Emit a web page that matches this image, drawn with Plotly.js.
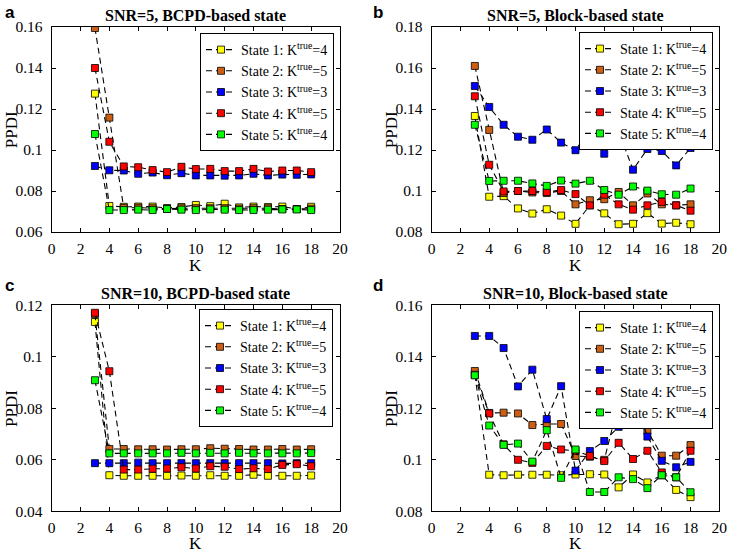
<!DOCTYPE html>
<html>
<head>
<meta charset="utf-8">
<script src="https://cdn.plot.ly/plotly-3.0.1.min.js"></script>
<style>html,body{margin:0;padding:0;background:#fff;}#plot{width:729px;height:552px;}</style>
</head>
<body>
<div id="plot"></div>
<script>
// ---------- data ----------
const K = [3,4,5,6,7,8,9,10,11,12,13,14,15,16,17,18];
const stateNames = [
  'State 1: K<sup>true</sup>=4',
  'State 2: K<sup>true</sup>=5',
  'State 3: K<sup>true</sup>=3',
  'State 4: K<sup>true</sup>=5',
  'State 5: K<sup>true</sup>=4'
];
const panelTitles = ['SNR=5, BCPD-based state','SNR=5, Block-based state','SNR=10, BCPD-based state','SNR=10, Block-based state'];
const panelLetters = ['a','b','c','d'];
const xTicks = [0,2,4,6,8,10,12,14,16,18,20];
const yTicksA = [0.06,0.08,0.1,0.12,0.14,0.16];
const yTicksB = [0.08,0.1,0.12,0.14,0.16,0.18];
const yTicksC = [0.04,0.06,0.08,0.1,0.12];
const yTicksD = [0.08,0.1,0.12,0.14,0.16];

// Panel a: SNR=5, BCPD-based
const a_s1 = [0.1275,0.0727,0.0723,0.0724,0.0724,0.0717,0.0722,0.0732,0.0726,0.0738,0.0720,0.0724,0.0722,0.0724,0.0712,0.0723];
const a_s2 = [0.1595,0.1158,0.0718,0.0719,0.0716,0.0713,0.0716,0.0716,0.0716,0.0716,0.0714,0.0716,0.0716,0.0712,0.0712,0.0714];
const a_s3 = [0.0922,0.0901,0.0900,0.0884,0.0890,0.0877,0.0887,0.0876,0.0876,0.0875,0.0876,0.0884,0.0876,0.0880,0.0879,0.0881];
const a_s4 = [0.1400,0.1040,0.0920,0.0916,0.0902,0.0892,0.0918,0.0907,0.0908,0.0897,0.0897,0.0908,0.0895,0.0900,0.0900,0.0892];
const a_s5 = [0.1078,0.0707,0.0707,0.0709,0.0707,0.0712,0.0709,0.0707,0.0710,0.0709,0.0707,0.0707,0.0709,0.0710,0.0710,0.0707];
// Panel b: SNR=5, Block-based
const b_s1 = [0.1366,0.0972,0.0975,0.0915,0.0890,0.0911,0.0880,0.0840,0.0930,0.0891,0.0838,0.0840,0.0892,0.0841,0.0845,0.0838];
const b_s2 = [0.1610,0.1298,0.0990,0.1000,0.0993,0.0990,0.1000,0.0935,0.0955,0.0960,0.0995,0.0930,0.0988,0.0935,0.0930,0.0935];
const b_s3 = [0.1512,0.1410,0.1323,0.1265,0.1250,0.1300,0.1236,0.1199,0.1300,0.1182,0.1290,0.1104,0.1205,0.1195,0.1125,0.1210];
const b_s4 = [0.1462,0.1128,0.0998,0.1000,0.1000,0.0995,0.1005,0.0985,0.0930,0.0982,0.0935,0.0909,0.0930,0.0947,0.0930,0.0904];
const b_s5 = [0.1323,0.1049,0.1050,0.1050,0.1037,0.1025,0.1051,0.1036,0.1050,0.1005,0.0982,0.1022,0.1002,0.0984,0.0982,0.1012];
// Panel c: SNR=10, BCPD-based
const c_s1 = [0.1135,0.0540,0.0538,0.0538,0.0538,0.0538,0.0539,0.0538,0.0540,0.0538,0.0538,0.0542,0.0538,0.0538,0.0538,0.0539];
const c_s2 = [0.1165,0.0642,0.0642,0.0641,0.0641,0.0640,0.0641,0.0641,0.0645,0.0643,0.0642,0.0640,0.0640,0.0642,0.0640,0.0641];
const c_s3 = [0.0587,0.0587,0.0587,0.0589,0.0587,0.0587,0.0587,0.0587,0.0587,0.0587,0.0587,0.0587,0.0587,0.0586,0.0587,0.0587];
const c_s4 = [0.1171,0.0944,0.0562,0.0562,0.0565,0.0566,0.0571,0.0566,0.0575,0.0573,0.0564,0.0567,0.0564,0.0580,0.0583,0.0575];
const c_s5 = [0.0909,0.0625,0.0625,0.0625,0.0625,0.0625,0.0627,0.0625,0.0627,0.0625,0.0627,0.0625,0.0625,0.0625,0.0625,0.0626];
// Panel d: SNR=10, Block-based
const d_s1 = [0.1330,0.0942,0.0940,0.0942,0.0942,0.0942,0.0940,0.0943,0.0944,0.0943,0.0893,0.0943,0.0912,0.0940,0.0883,0.0855];
const d_s2 = [0.1345,0.1182,0.1183,0.1180,0.1135,0.1139,0.1139,0.1015,0.1012,0.1000,0.1220,0.1240,0.1113,0.1016,0.1016,0.1057];
const d_s3 = [0.1481,0.1481,0.1434,0.1285,0.1350,0.1158,0.1286,0.0958,0.1034,0.1073,0.1128,0.1250,0.1090,0.0996,0.0971,0.0992];
const d_s4 = [0.1330,0.1180,0.1060,0.1000,0.0988,0.1054,0.1040,0.1035,0.1015,0.0995,0.1066,0.1003,0.1035,0.0951,0.0932,0.1035];
const d_s5 = [0.1328,0.1133,0.1058,0.1063,0.0993,0.1115,0.0930,0.1040,0.0875,0.0875,0.0932,0.0925,0.0890,0.0940,0.0932,0.0874];

const panels = [
  [a_s1,a_s2,a_s3,a_s4,a_s5],
  [b_s1,b_s2,b_s3,b_s4,b_s5],
  [c_s1,c_s2,c_s3,c_s4,c_s5],
  [d_s1,d_s2,d_s3,d_s4,d_s5]
];
const yTickSets = [yTicksA,yTicksB,yTicksC,yTicksD];

// ---------- styling ----------
const colors = ['#ffff00','#cc5f14','#0000ff','#ff0000','#00ff00'];
const serif = 'Liberation Serif';
const W = 729, H = 552;
const xDom = [[51.7/W, 340/W],[431.7/W, 719.3/W]];
const yDom = [[1-232/H, 1-27/H],[1-511.3/H, 1-305.3/H]];

const traces = [];
panels.forEach((series, p) => {
  const sfx = p === 0 ? '' : String(p+1);
  series.forEach((vals, i) => {
    traces.push({
      x: K, y: vals, type: 'scatter', mode: 'lines+markers',
      name: stateNames[i],
      xaxis: 'x'+sfx, yaxis: 'y'+sfx,
      legend: 'legend'+sfx,
      line: {color: '#000', width: 1.1, dash: '6px,4px'},
      marker: {symbol: 'square', size: 7, color: colors[i], line: {color: '#000', width: 0.8}}
    });
  });
});

const layout = {
  width: W, height: H,
  margin: {l:0, r:0, t:0, b:0},
  paper_bgcolor: '#fff', plot_bgcolor: '#fff',
  font: {family: serif, size: 15, color: '#000'},
  showlegend: true,
  annotations: []
};

const legendPos = [
  {x: 334/W, y: 1-33/H},
  {x: 713/W, y: 1-32/H},
  {x: 333/W, y: 1-309/H},
  {x: 713/W, y: 1-311/H}
];
const ranges = [[0.06,0.16],[0.08,0.18],[0.04,0.12],[0.08,0.16]];

for (let p = 0; p < 4; p++) {
  const sfx = p === 0 ? '' : String(p+1);
  const col = p % 2, row = Math.floor(p/2);
  layout['xaxis'+sfx] = {
    domain: xDom[col], anchor: 'y'+sfx, range: [0,20],
    tickvals: xTicks, ticktext: xTicks.map(String),
    ticks: 'inside', ticklen: 4, tickwidth: 1, tickcolor: '#000',
    showline: true, linecolor: '#000', linewidth: 1, mirror: 'allticks',
    showgrid: false, zeroline: false, ticklabelstandoff: 2,
    tickfont: {family: serif, size: 15.5, color: '#000'}
  };
  layout['yaxis'+sfx] = {
    domain: yDom[row], anchor: 'x'+sfx, range: ranges[p],
    tickvals: yTickSets[p], ticktext: yTickSets[p].map(String),
    ticks: 'inside', ticklen: 4, tickwidth: 1, tickcolor: '#000',
    showline: true, linecolor: '#000', linewidth: 1, mirror: 'allticks',
    showgrid: false, zeroline: false, ticklabelstandoff: 5,
    tickfont: {family: serif, size: 15.5, color: '#000'}
  };
  layout['legend'+sfx] = {
    x: legendPos[p].x, y: legendPos[p].y, xanchor: 'right', yanchor: 'top',
    xref: 'paper', yref: 'paper',
    bgcolor: '#fff', bordercolor: '#000', borderwidth: 1,
    font: {family: serif, size: 14, color: '#000'},
    itemwidth: 30, tracegroupgap: 0
  };
  const xc = (xDom[col][0]+xDom[col][1])/2;
  const topPx = row === 0 ? 27 : 305.3;
  const botPx = row === 0 ? 232 : 511.3;
  // subplot title
  layout.annotations.push({
    text: '<b>'+panelTitles[p]+'</b>', xref: 'paper', yref: 'paper',
    x: xc, y: 1-(topPx-12)/H, xanchor: 'center', yanchor: 'middle',
    showarrow: false, font: {family: serif, size: 16, color: '#000'}
  });
  // K label
  layout.annotations.push({
    text: 'K', xref: 'paper', yref: 'paper',
    x: xc, y: 1-(botPx+(row === 0 ? 34 : 32))/H, xanchor: 'center', yanchor: 'middle',
    showarrow: false, font: {family: serif, size: 17, color: '#000'}
  });
  // PPDI label
  layout.annotations.push({
    text: 'PPDI', xref: 'paper', yref: 'paper', textangle: -90,
    x: (xDom[col][0]*W - 40)/W, y: 1-((topPx+botPx)/2)/H, xanchor: 'center', yanchor: 'middle',
    showarrow: false, font: {family: serif, size: 17, color: '#000'}
  });
  // panel letter
  layout.annotations.push({
    text: '<b>'+panelLetters[p]+'</b>', xref: 'paper', yref: 'paper',
    x: (col === 0 ? 3 : 371)/W, y: 1-(row === 0 ? 1 : 274)/H, xanchor: 'left', yanchor: 'top',
    showarrow: false, font: {family: 'Liberation Sans', size: 17, color: '#000'}
  });
}

Plotly.newPlot('plot', traces, layout, {staticPlot: true, displayModeBar: false});
</script>
</body>
</html>
